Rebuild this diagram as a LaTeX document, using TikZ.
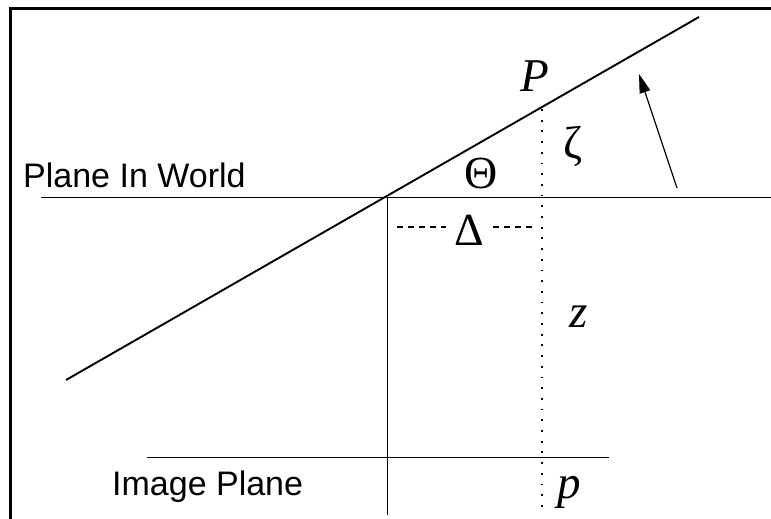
\documentclass[tikz,border=0pt]{standalone}
\usepackage{fontspec}
\setmainfont{Liberation Serif}
\newfontfamily\lsans{Liberation Sans}
\usetikzlibrary{arrows.meta}
\tikzset{
  mainline/.style={line width=1.9pt, line cap=butt},
  frameline/.style={line width=3pt},
  dotline/.style={line width=1.8pt, dash pattern=on 1.8pt off 8.9pt},
  dashline/.style={line width=1.1pt, dash pattern=on 6pt off 5pt},
  arrowline/.style={line width=1.2pt, -{Triangle[length=19pt,width=11pt]}},
  sanslabel/.style={inner sep=0pt, font=\lsans\fontsize{34}{40}\selectfont},
  mathlabel/.style={inner sep=0pt, font=\fontsize{47}{54}\selectfont\itshape},
  greeklabel/.style={inner sep=0pt, font=\fontsize{46}{52}\selectfont},
}
\begin{document}
\begin{tikzpicture}[x=1pt,y=-1pt]
\useasboundingbox (0,0) rectangle (771,519);
% frame
\coordinate (fbl) at (10,521);
\coordinate (ftl) at (10,9);
\coordinate (ftr) at (773,9);
\draw[frameline] (fbl) -- (ftl) -- (ftr);
% key points
\coordinate (O) at (387.5,197.5);
\coordinate (A) at (66,380);
\coordinate (B) at (699,17);
\coordinate (W1) at (41,197.5);
\coordinate (W2) at (773,197.5);
\coordinate (Vb) at (387.5,515);
\coordinate (I1) at (147,457.5);
\coordinate (I2) at (609,457.5);
\coordinate (Dt) at (542,109);
\coordinate (Db) at (542,511);
\coordinate (L1) at (397,227);
\coordinate (L2) at (446,227);
\coordinate (R1) at (493,227);
\coordinate (R2) at (533,227);
\coordinate (At) at (677,188);
\coordinate (Ah) at (639,74);
% lines
\draw[mainline] (A) -- (B);
\draw[mainline] (W1) -- (W2);
\draw[mainline] (O) -- (Vb);
\draw[mainline] (I1) -- (I2);
\draw[dotline] (Dt) -- (Db);
\draw[dashline] (L1) -- (L2);
\draw[dashline] (R1) -- (R2);
\draw[arrowline] (At) -- (Ah);
% labels
\node[sanslabel, anchor=base west] (piw) at (23,187) {Plane In World};
\node[sanslabel, anchor=base west] (imp) at (112,495) {Image Plane};
\node[mathlabel, anchor=base] (P) at (535,92) {P};
\node[greeklabel, anchor=base] (Th) at (481.5,188) {Θ};
\node[greeklabel, anchor=base] (De) at (469,245) {Δ};
\node[greeklabel] (ze) at (573,146) {ζ};
\node[mathlabel, anchor=base] (z) at (579,327) {z};
\node[mathlabel, anchor=base] (p) at (569,498) {p};
\end{tikzpicture}
\end{document}
